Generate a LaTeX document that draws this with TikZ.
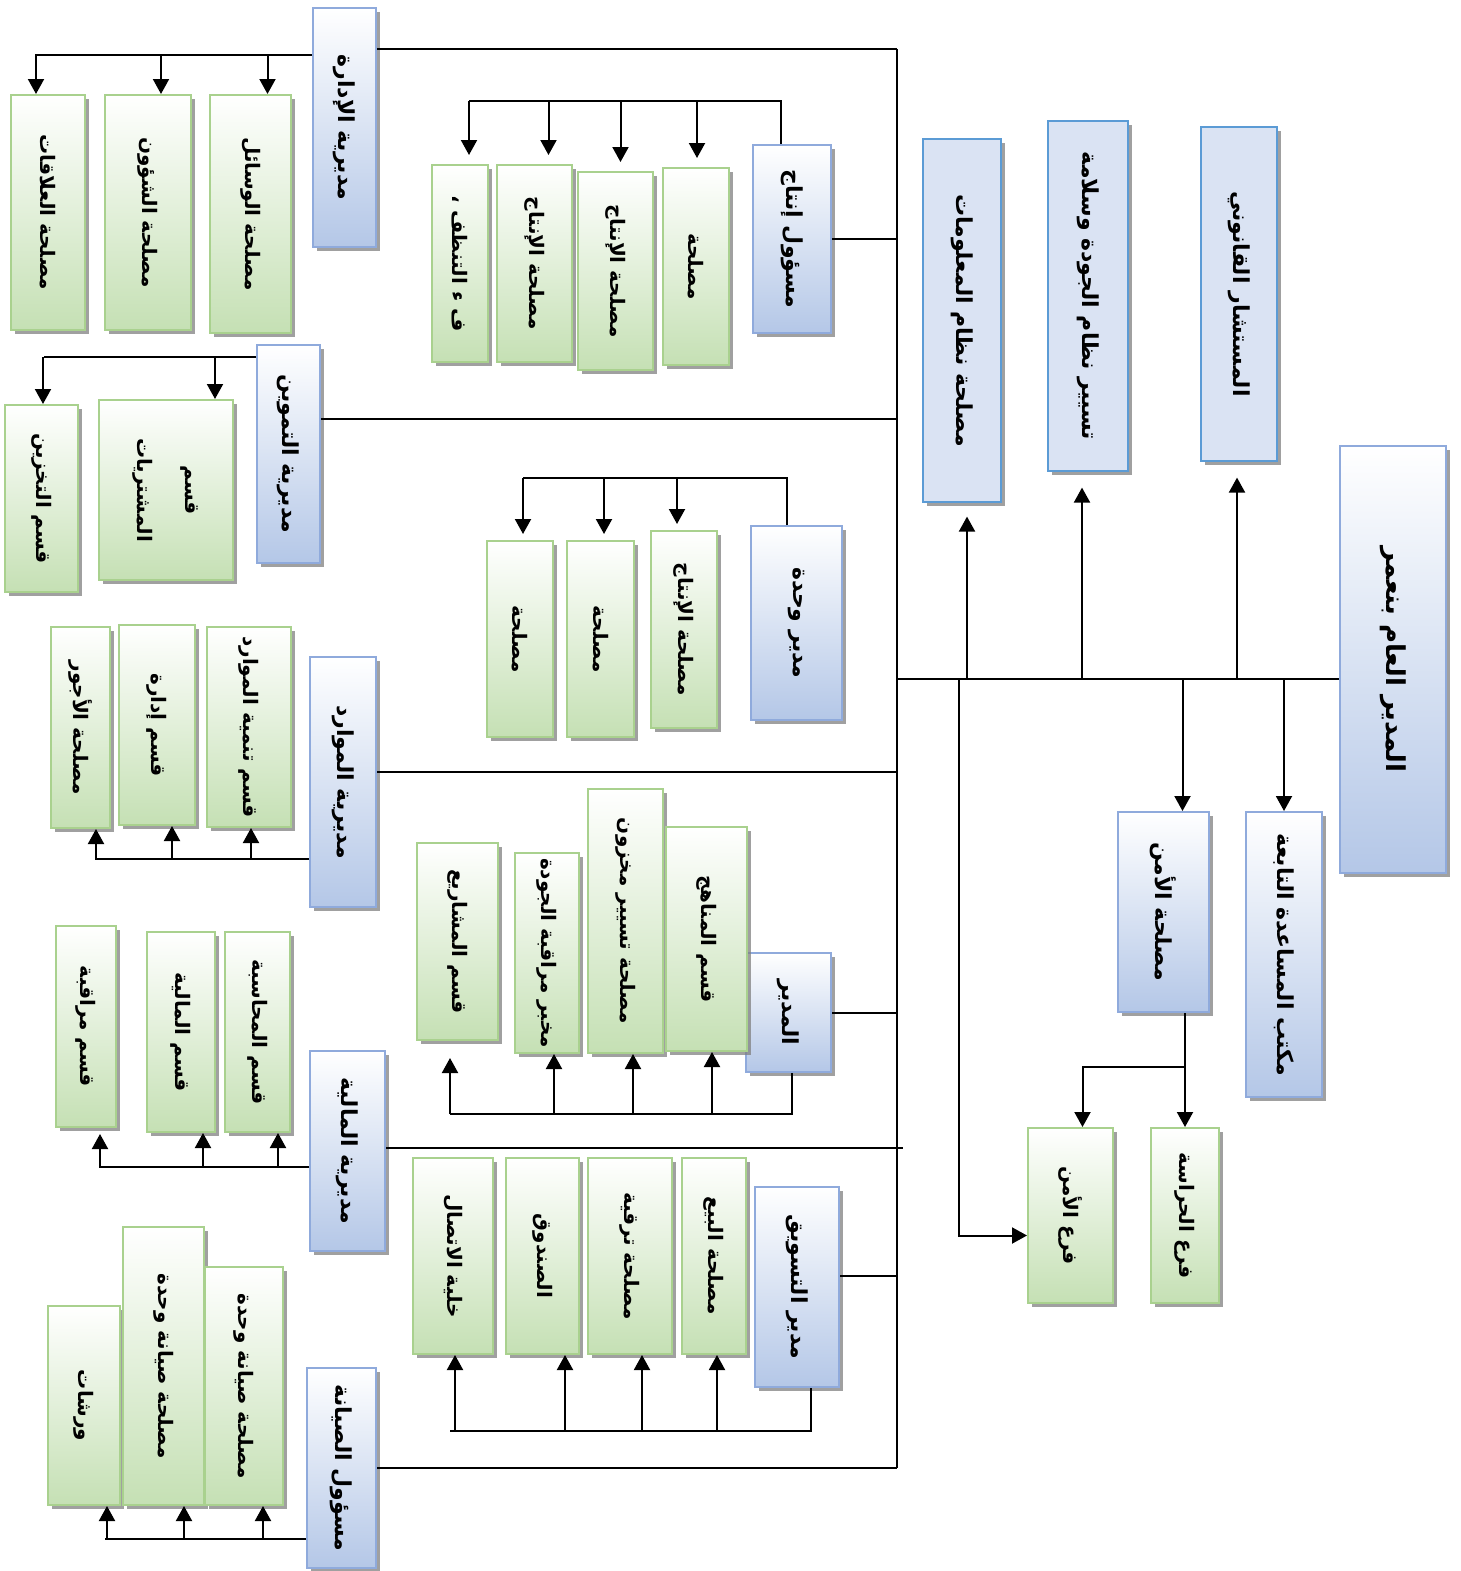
\documentclass[tikz,border=0pt]{standalone}
\usepackage{fontspec}
\usepackage{graphicx}
\newfontfamily\arabicfont[Script=Arabic]{DejaVu Sans}
\TeXXeTstate=1
\usetikzlibrary{arrows.meta,shadows,calc}
\definecolor{bluebot}{HTML}{B4C7E7}
\definecolor{blueline}{HTML}{8FAADC}
\definecolor{greenbot}{HTML}{C5E0B4}
\definecolor{greenline}{HTML}{A9D18E}
\definecolor{flatfill}{HTML}{DAE3F3}
\definecolor{flatline}{HTML}{5B9BD5}
\newcommand{\vtxt}[1]{\rotatebox{-90}{\arabicfont\beginR #1\endR}}

\begin{document}
\begin{tikzpicture}[x=1pt,y=-1pt,>={Triangle[width=16pt,length=15pt]},line width=2pt,
    box/.style={line width=2pt,inner sep=0pt,drop shadow={shadow xshift=4pt,shadow yshift=-4pt,fill=black!50,opacity=.75}},
    bbox/.style={box,draw=blueline,top color=white,bottom color=bluebot,font=\fontsize{22}{26}\selectfont\bfseries},
    gbox/.style={box,draw=greenline,top color=white,bottom color=greenbot,font=\fontsize{20}{24}\selectfont\bfseries},
    fbox/.style={box,draw=flatline,fill=flatfill,line width=1.2pt,font=\fontsize{22}{26}\selectfont\bfseries},
    sz/.style 2 args={minimum width=#1,minimum height=#2}]
\useasboundingbox (0,0) rectangle (1460,1571);

% general manager and staff
\node[bbox,sz={106}{427},font=\fontsize{26}{30}\selectfont\bfseries] (gm) at (1393,659.5) {\vtxt{المدير العام بنعمر}};
\node[fbox,sz={78}{363}] (info) at (962,320.5) {\vtxt{مصلحة نظام المعلومات}};
\node[fbox,sz={80}{350}] (qual) at (1088,296) {\vtxt{تسيير نظام الجودة وسلامة}};
\node[fbox,sz={76}{334}] (legal) at (1239,294) {\vtxt{المستشار القانوني}};
\node[bbox,sz={76}{285}] (office) at (1284,954.5) {\vtxt{مكتب المساعدة التابعة}};
\node[bbox,sz={91}{200}] (secu) at (1163.5,912) {\vtxt{مصلحة الأمن}};
\node[gbox,sz={85}{175}] (bsec) at (1070.5,1215.5) {\vtxt{فرع الأمن}};
\node[gbox,sz={68}{175}] (guard) at (1185,1215.5) {\vtxt{فرع الحراسة}};

% directorates
\node[bbox,sz={63}{239}] (adm) at (344.5,127.5) {\vtxt{مديرية الإدارة}};
\node[bbox,sz={78}{188}] (prod) at (792,239) {\vtxt{مسؤول إنتاج}};
\node[bbox,sz={63}{218}] (supp) at (288.5,454) {\vtxt{مديرية التموين}};
\node[bbox,sz={91}{194}] (unit) at (796.5,623) {\vtxt{مدير وحدة}};
\node[bbox,sz={66}{250}] (hr) at (343,782) {\vtxt{مديرية الموارد}};
\node[bbox,sz={85}{119}] (dir) at (788.5,1012.5) {\vtxt{المدير}};
\node[bbox,sz={75}{200}] (fin) at (347.5,1151) {\vtxt{مديرية المالية}};
\node[bbox,sz={84}{200}] (mkt) at (797,1287) {\vtxt{مدير التسويق}};
\node[bbox,sz={69}{200}] (mnt) at (341.5,1468) {\vtxt{مسؤول الصيانة}};

% services
\node[gbox,sz={81}{238}] (was) at (250.5,214) {\vtxt{مصلحة الوسائل}};
\node[gbox,sz={86}{235}] (shu) at (148,212.5) {\vtxt{مصلحة الشؤون}};
\node[gbox,sz={74}{235}] (rel) at (48,212.5) {\vtxt{مصلحة العلاقات}};
\node[gbox,sz={56}{197}] (p1) at (460,263.5) {\vtxt{ف ء التنظف ،}};
\node[gbox,sz={75}{197}] (p2) at (534.5,263.5) {\vtxt{مصلحة الإنتاج}};
\node[gbox,sz={75}{198}] (p3) at (615.5,271) {\vtxt{مصلحة الإنتاج}};
\node[gbox,sz={66}{197}] (p4) at (696,266.5) {\vtxt{مصلحة}};
\node[gbox,sz={134}{180}] (buy) at (166,490) {\rotatebox{-90}{\arabicfont\begin{tabular}{c}\beginR قسم\endR\\[24pt]\beginR المشتريات\endR\end{tabular}}};
\node[gbox,sz={73}{187}] (store) at (41.5,498.5) {\vtxt{قسم التخزين}};
\node[gbox,sz={66}{196}] (u1) at (520,639) {\vtxt{مصلحة}};
\node[gbox,sz={67}{196}] (u2) at (600.5,639) {\vtxt{مصلحة}};
\node[gbox,sz={66}{197}] (u3) at (684,629.5) {\vtxt{مصلحة الإنتاج}};
\node[gbox,sz={59}{201}] (wage) at (80.5,727.5) {\vtxt{مصلحة الأجور}};
\node[gbox,sz={76}{200}] (adq) at (157,725) {\vtxt{قسم إدارة}};
\node[gbox,sz={84}{200}] (dev) at (249,727) {\vtxt{قسم تنمية الموارد}};
\node[gbox,sz={81}{197}] (proj) at (457.5,941.5) {\vtxt{قسم المشاريع}};
\node[gbox,sz={64}{200}] (lab) at (547,953) {\vtxt{مخبر مراقبة الجودة}};
\node[gbox,sz={75}{264}] (stock) at (625.5,921) {\vtxt{مصلحة تسيير مخزون}};
\node[gbox,sz={81}{224}] (cur) at (706.5,939) {\vtxt{قسم المناهج}};
\node[gbox,sz={60}{201}] (ctrl) at (86,1026.5) {\vtxt{قسم مراقبة}};
\node[gbox,sz={68}{200}] (money) at (181,1032) {\vtxt{قسم المالية}};
\node[gbox,sz={65}{200}] (acc) at (257.5,1032) {\vtxt{قسم المحاسبة}};
\node[gbox,sz={80}{196}] (comm) at (453,1256) {\vtxt{خلية الاتصال}};
\node[gbox,sz={73}{196}] (fund) at (542.5,1256) {\vtxt{الصندوق}};
\node[gbox,sz={84}{196}] (prom) at (630,1256) {\vtxt{مصلحة ترقية}};
\node[gbox,sz={64}{196}] (sale) at (714,1256) {\vtxt{مصلحة البيع}};
\node[gbox,sz={72}{199}] (shop) at (84,1405.5) {\vtxt{ورشات}};
\node[gbox,sz={81}{278}] (m1) at (163.5,1366) {\vtxt{مصلحة صيانة وحدة}};
\node[gbox,sz={78}{238}] (m2) at (244,1386) {\vtxt{مصلحة صيانة وحدة}};

% trunk
\coordinate (tt) at (897,49);
\coordinate (tb) at (897,1468);
\draw (tt) -- (tb);
\draw (adm.east |- tt) -- (tt);
\draw (prod.east) -- (prod.east -| tt);
\coordinate (c1) at ([yshift=-75pt]supp.north east);
\draw (c1) -- (c1 -| tt);
\coordinate (c2) at ([yshift=10pt]hr.east);
\draw (c2) -- (c2 -| tt);
\draw (dir.east) -- (dir.east -| tt);
\coordinate (c3) at ([yshift=3pt]fin.east);
\draw (c3) -- (c3 -| tt) -- ++(6,0);
\coordinate (c4) at ([yshift=11pt]mkt.east);
\draw (c4) -- (c4 -| tt);
\draw (mnt.east) -- (mnt.east -| tt);

% right side
\coordinate (hub) at (897,679);
\draw (hub) -- (gm.west |- hub);
\coordinate (c0) at ([xshift=5pt]info.south);
\draw[->,shorten >=14pt] (c0 |- hub) -- (c0);
\foreach \n/\dx in {qual/-6,legal/-2}{
  \coordinate (e) at ([xshift=\dx pt]\n.south);
  \draw[->,shorten >=16pt] (e |- hub) -- (e);}
\coordinate (c5) at ([xshift=19pt]secu.north);
\draw[->] (c5 |- hub) -- (c5);
\draw[->] (office.north |- hub) -- (office.north);
\draw[->] (guard.north |- secu.south) -- (guard.north);
\coordinate (c6) at ([yshift=60pt]guard.north);
\coordinate (c7) at ([xshift=12pt]bsec.north);
\draw[->] (c6) -| (c7);
\coordinate (hub2) at (959,679);
\coordinate (c8) at ([yshift=-20pt]bsec.west);
\draw[->] (hub2) |- (c8);

% administration
\coordinate (b1) at ([yshift=-48pt]adm.north west);
\draw (b1) -- ++(-277,0);
\foreach \n/\dx in {rel/-12,shu/13,was/17}{
  \coordinate (e) at ([xshift=\dx pt]\n.north);
  \draw[->] (e |- b1) -- (e);}

% production
\coordinate (b2) at ([xshift=-11pt]prod.north);
\coordinate (b2t) at ([yshift=43pt]b2);
\draw (b2) -- (b2t) -- ++(-312,0);
\foreach \n/\dx in {p1/9,p2/14,p3/5,p4/1}{
  \coordinate (e) at ([xshift=\dx pt]\n.north);
  \draw[->,shorten >=9pt] (e |- b2t) -- (e);}

% supply
\coordinate (b3) at ([yshift=-13pt]supp.north west);
\draw (b3) -- ++(-212,0);
\foreach \n/\dx in {buy/49,store/1.5}{
  \coordinate (e) at ([xshift=\dx pt]\n.north);
  \draw[->] (e |- b3) -- (e);}

% unit
\coordinate (b4) at ([xshift=-9.5pt]unit.north);
\coordinate (b4t) at ([yshift=47pt]b4);
\draw (b4) -- (b4t) -- ++(-264,0);
\foreach \n/\dx in {u1/3,u2/3.5,u3/-7}{
  \coordinate (e) at ([xshift=\dx pt]\n.north);
  \draw[->,shorten >=6pt] (e |- b4t) -- (e);}

% resources
\coordinate (b5) at ([yshift=49pt]hr.south west);
\draw (b5) -- ++(-214,0);
\foreach \n/\dx in {wage/15.5,adq/15,dev/2}{
  \coordinate (e) at ([xshift=\dx pt]\n.south);
  \draw[->] (e |- b5) -- (e);}

% director
\coordinate (b6) at ([xshift=3.5pt]dir.south);
\coordinate (b6b) at ([yshift=-41pt]b6);
\draw (b6) -- (b6b) -- ++(-342,0);
\foreach \n/\dx/\s in {proj/-7.5/17,lab/7/0,stock/7.5/0,cur/5.5/0}{
  \coordinate (e) at ([xshift=\dx pt]\n.south);
  \draw[->,shorten >=\s pt] (e |- b6b) -- (e);}

% finance
\coordinate (b7) at ([yshift=85pt]fin.south west);
\draw (b7) -- ++(-210,0);
\foreach \n/\dx/\s in {ctrl/14/6,money/22/0,acc/20.5/0}{
  \coordinate (e) at ([xshift=\dx pt]\n.south);
  \draw[->,shorten >=\s pt] (e |- b7) -- (e);}

% marketing
\coordinate (b8) at ([xshift=14pt]mkt.south);
\coordinate (b8b) at ([yshift=-43pt]b8);
\draw (b8) -- (b8b) -- ++(-361,0);
\foreach \n/\dx in {comm/2,fund/22.5,prom/12,sale/3}{
  \coordinate (e) at ([xshift=\dx pt]\n.south);
  \draw[->] (e |- b8b) -- (e);}

% maintenance
\coordinate (b9) at ([yshift=30pt]mnt.south west);
\draw (b9) -- ++(-201,0);
\foreach \n/\dx in {shop/23,m1/20.5,m2/19}{
  \coordinate (e) at ([xshift=\dx pt]\n.south);
  \draw[->] (e |- b9) -- (e);}
\end{tikzpicture}
\end{document}
